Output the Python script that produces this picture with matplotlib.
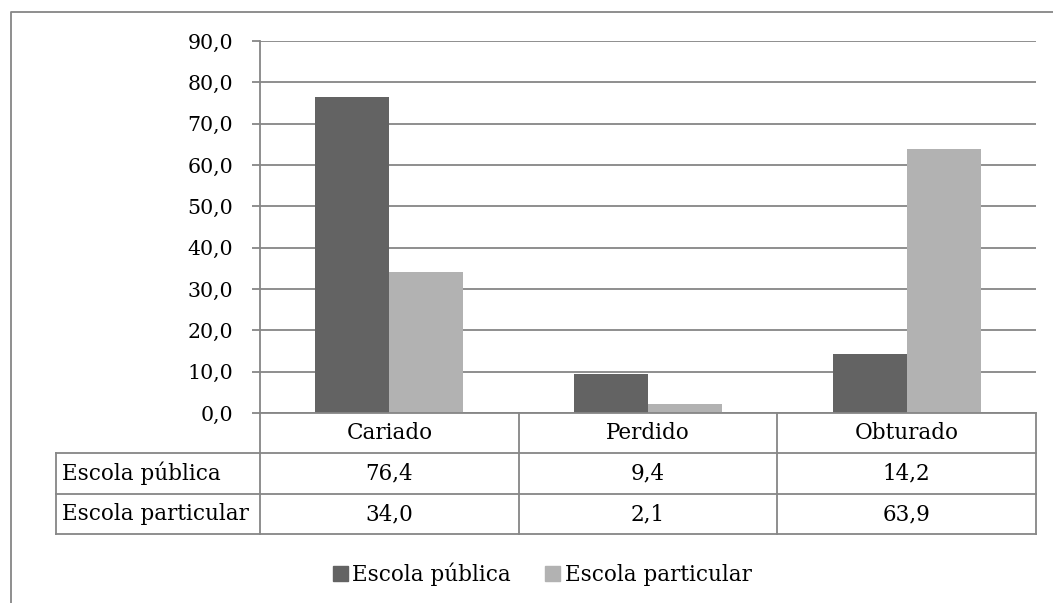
import matplotlib.pyplot as plt
from matplotlib.transforms import blended_transform_factory
from matplotlib.patches import Patch

# Dados
categorias = ["Cariado", "Perdido", "Obturado"]
series = ["Escola pública", "Escola particular"]
publica = [76.4, 9.4, 14.2]
particular = [34.0, 2.1, 63.9]
yticks = [0, 10, 20, 30, 40, 50, 60, 70, 80, 90]

W, H = 1053, 603
escuro = "#636363"
claro = "#b2b2b2"
cinza = "#868686"

plt.rcParams['font.family'] = ['DejaVu Serif']

fig = plt.figure(figsize=(W / 100, H / 100), dpi=100)

def fx(x):
    return x / W

def fy(y):
    return 1 - y / H

# Moldura externa (cortada a direita e embaixo)
fig.add_artist(plt.Line2D([fx(11), fx(11), 1], [0, fy(12), fy(12)],
                          color=cinza, lw=1.3, transform=fig.transFigure))

# Área do gráfico
x0, x1, ytop, ybot = 260, 1036, 41, 413
ax = fig.add_axes([fx(x0), fy(ybot), fx(x1 - x0), (ybot - ytop) / H])

larg = 0.286
xs = range(len(categorias))
ax.bar([i - larg / 2 for i in xs], publica, larg, color=escuro, zorder=3)
ax.bar([i + larg / 2 for i in xs], particular, larg, color=claro, zorder=3)

ax.set_xlim(-0.5, len(categorias) - 0.5)
ax.set_ylim(0, 90)
ax.set_yticks(yticks)
ax.set_yticklabels([f"{v:.1f}".replace(".", ",") for v in yticks], fontsize=14.8)
ax.set_xticks([])
ax.grid(axis="y", color=cinza, lw=1.3, zorder=0)
for lado in ["top", "right", "bottom"]:
    ax.spines[lado].set_visible(False)
ax.spines["left"].set_color(cinza)
ax.spines["left"].set_linewidth(1.3)
ax.tick_params(axis="y", length=6, width=1.3, color=cinza, pad=13.5)

# Tabela de dados
tr = blended_transform_factory(ax.transData, fig.transFigure)
tf = fig.transFigure
linha = dict(color=cinza, lw=1.3, clip_on=False)
y_cab, y_r1, y_r2, y_fim = 413, 453, 494, 534
t_left = 56

# linhas horizontais
fig.add_artist(plt.Line2D([fx(x0), fx(x1)], [fy(y_cab), fy(y_cab)], transform=tf, **linha))
for yy in [y_r1, y_r2, y_fim]:
    fig.add_artist(plt.Line2D([fx(t_left), fx(x1)], [fy(yy), fy(yy)], transform=tf, **linha))
# linhas verticais
fig.add_artist(plt.Line2D([fx(t_left), fx(t_left)], [fy(y_r1), fy(y_fim)], transform=tf, **linha))
for i in range(len(categorias) + 1):
    fig.add_artist(plt.Line2D([i - 0.5, i - 0.5], [fy(y_cab), fy(y_fim)], transform=tr, **linha))

fs = 15.5
for i, cat in enumerate(categorias):
    fig.text(i, fy((y_cab + y_r1) / 2), cat, transform=tr, ha="center", va="center", fontsize=fs)
for j, (nome, vals) in enumerate([(series[0], publica), (series[1], particular)]):
    yc = fy([(y_r1 + y_r2) / 2, (y_r2 + y_fim) / 2][j])
    fig.text(fx(t_left + 6), yc, nome, ha="left", va="center", fontsize=fs)
    for i, v in enumerate(vals):
        fig.text(i, yc, f"{v:.1f}".replace(".", ","), transform=tr,
                 ha="center", va="center", fontsize=fs)

# Legenda
handles = [Patch(color=escuro, label=series[0]), Patch(color=claro, label=series[1])]
fig.legend(handles=handles, loc="center", bbox_to_anchor=(fx(542), fy(574)), ncol=2,
           frameon=False, fontsize=fs, handlelength=0.7, handleheight=0.7,
           handletextpad=0.2, columnspacing=1.6)

fig.savefig("out.png", dpi=100)
